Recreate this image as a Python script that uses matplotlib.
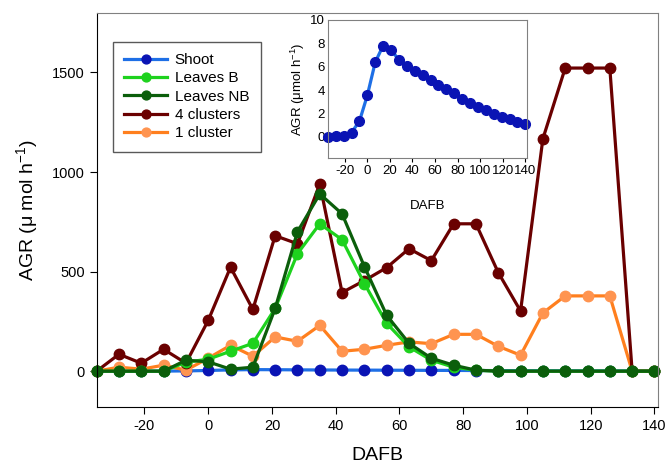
import numpy as np
from matplotlib import pyplot as plt

plt.rcParams['font.family'] = ['Liberation Sans', 'DejaVu Sans']
plt.rcParams['axes.unicode_minus'] = False

# days after full bloom, one point per week
dafb = [-35, -28, -21, -14, -7, 0, 7, 14, 21, 28, 35, 42, 49, 56, 63,
        70, 77, 84, 91, 98, 105, 112, 119, 126, 133, 140]

shoot = [0, 0.05, 0.1, 0.37, 1.33, 3.54, 6.37, 7.79, 7.39, 6.6, 6.03, 5.61, 5.24,
         4.84, 4.45, 4.1, 3.71, 3.26, 2.92, 2.58, 2.27, 1.93, 1.73, 1.5, 1.3, 1.08]
leaves_b = [0, 0, 0, 0, 45, 60, 100, 140, 315, 590, 740, 660, 440, 240, 122,
            55, 20, 5, 0, 0, 0, 0, 0, 0, 0, 0]
leaves_nb = [0, 0, 0, 0, 55, 47, 10, 20, 315, 700, 890, 790, 525, 280, 140,
             65, 30, 5, 0, 0, 0, 0, 0, 0, 0, 0]
clusters_4 = [0, 85, 40, 110, 40, 255, 522, 310, 680, 640, 940, 395, 455, 520, 615,
              555, 740, 740, 495, 302, 1167, 1522, 1522, 1522, 0, 0]
cluster_1 = [0, 20, 10, 30, 5, 65, 130, 75, 172, 150, 230, 100, 110, 130, 147,
             138, 185, 185, 125, 80, 292, 378, 378, 378, 0, 0]

series = [
    ("Shoot", shoot, "#1e6fe6", "#0a14b4"),
    ("1 cluster", cluster_1, "#ff7f1e", "#ff9450"),
    ("4 clusters", clusters_4, "#6a0000", "#6a0000"),
    ("Leaves B", leaves_b, "#1ed21e", "#1ed21e"),
    ("Leaves NB", leaves_nb, "#0b5e0b", "#0b5e0b"),
]
legend_order = ["Shoot", "Leaves B", "Leaves NB", "4 clusters", "1 cluster"]


def style_ax(ax, gray_edges=False):
    '''
    Black left/bottom spines, gray top/right
    '''
    for side in ['top', 'right']:
        ax.spines[side].set_color('#808080')
    for side in ['left', 'bottom']:
        ax.spines[side].set_color('#808080' if gray_edges else 'black')
    ax.tick_params(top=False, right=False, direction='out')


fig = plt.figure(figsize=(6.69, 4.70), dpi=100)
ax = fig.add_axes([0.1445, 0.134, 0.8385, 0.839])

handles = {}
for name, vals, lc, mc in series:
    line, = ax.plot(dafb, vals, color=lc, lw=2.3, marker='o', ms=7.5,
                    mfc=mc, mec=mc, label=name, clip_on=False)
    handles[name] = line

ax.set_xlim(-35, 141)
ax.set_ylim(-180, 1800)
ax.set_xticks(np.arange(-20, 141, 20))
ax.set_yticks([0, 500, 1000, 1500])
ax.tick_params(labelsize=10.5, length=5)
ax.set_xlabel('DAFB', fontsize=14, labelpad=10)
ax.set_ylabel(r'AGR ($\mathregular{\mu}$ mol h$^{\mathregular{-1}}$)', fontsize=14, labelpad=8)
style_ax(ax)

leg = ax.legend([handles[n] for n in legend_order], legend_order,
                loc='upper left', bbox_to_anchor=(0.015, 0.946), fontsize=11,
                frameon=True, fancybox=False, edgecolor='#303030',
                handlelength=2.8, labelspacing=0.28, borderpad=0.75,
                handletextpad=0.5, markerscale=0.85)
leg.get_frame().set_linewidth(1.0)

# inset: shoot growth rate on its own scale
axin = fig.add_axes([0.490, 0.664, 0.297, 0.294])
axin.plot(dafb, shoot, color="#1e6fe6", lw=2.3, marker='o', ms=7,
          mfc="#0a14b4", mec="#0a14b4", clip_on=False)
axin.set_xlim(-35, 141)
axin.set_ylim(-1.8, 10)
axin.set_xticks(np.arange(-20, 141, 20))
axin.set_yticks(np.arange(0, 11, 2))
axin.tick_params(labelsize=9.5, length=3, pad=2)
axin.tick_params(axis='y', length=0)
axin.set_xlabel('DAFB', fontsize=9.5, labelpad=17)
axin.set_ylabel(r'AGR ($\mathregular{\mu}$mol h$^{\mathregular{-1}}$)', fontsize=9.5, labelpad=2)
style_ax(axin, gray_edges=True)
axin.spines['bottom'].set_color('#808080')

fig.savefig('out.png', dpi=100)
